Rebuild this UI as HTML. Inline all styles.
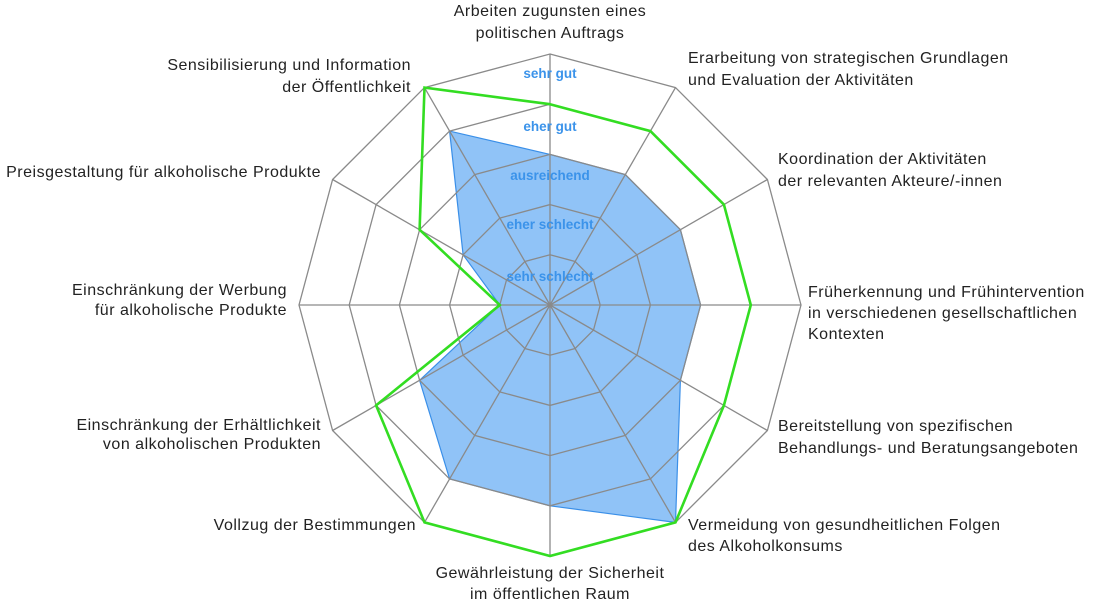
<!DOCTYPE html>
<html><head><meta charset="utf-8"><style>
html,body{margin:0;padding:0;background:#fff;}
body{width:1100px;height:606px;position:relative;overflow:hidden;font-family:"Liberation Sans",sans-serif;}
.l{position:absolute;font-size:16px;letter-spacing:0.5px;line-height:22px;color:#222;white-space:nowrap;}
.r{text-align:right;}
.c{text-align:center;transform:translateX(-50%);}
svg{position:absolute;left:0;top:0;}
</style></head><body>
<svg id="s" width="1100" height="606"></svg>
<div class="l c" style="left:550px;top:1px">Arbeiten zugunsten eines<br>politischen Auftrags</div>
<div class="l" style="left:688px;top:48px">Erarbeitung von strategischen Grundlagen<br>und Evaluation der Aktivitäten</div>
<div class="l" style="left:778px;top:149px">Koordination der Aktivitäten<br>der relevanten Akteure/-innen</div>
<div class="l" style="left:808px;top:282px;line-height:21px">Früherkennung und Frühintervention<br>in verschiedenen gesellschaftlichen<br>Kontexten</div>
<div class="l" style="left:778px;top:416px">Bereitstellung von spezifischen<br>Behandlungs- und Beratungsangeboten</div>
<div class="l" style="left:688px;top:515px;line-height:21px">Vermeidung von gesundheitlichen Folgen<br>des Alkoholkonsums</div>
<div class="l c" style="left:550px;top:563px;line-height:21px">Gewährleistung der Sicherheit<br>im öffentlichen Raum</div>
<div class="l r" style="right:684px;top:515px">Vollzug der Bestimmungen</div>
<div class="l r" style="right:779px;top:416px;line-height:19px">Einschränkung der Erhältlichkeit<br>von alkoholischen Produkten</div>
<div class="l r" style="right:813px;top:281px;line-height:20px">Einschränkung der Werbung<br>für alkoholische Produkte</div>
<div class="l r" style="right:779px;top:162px">Preisgestaltung für alkoholische Produkte</div>
<div class="l r" style="right:689px;top:55px">Sensibilisierung und Information<br>der Öffentlichkeit</div>
<script>
var cx=550,cy=305,u=50.2,NS="http://www.w3.org/2000/svg",s=document.getElementById('s');
function pt(k,r){var a=k*Math.PI/6;return [(cx+r*u*Math.sin(a)).toFixed(1),(cy-r*u*Math.cos(a)).toFixed(1)];}
function poly(vals,attrs){var p=[];for(var k=0;k<12;k++)p.push(pt(k,vals[k]).join(','));var e=document.createElementNS(NS,'polygon');e.setAttribute('points',p.join(' '));for(var a in attrs)e.setAttribute(a,attrs[a]);s.appendChild(e);}
poly([3,3,3,3,3,5,4,4,3,1,2,4],{fill:'#90c3f7',stroke:'#3a8fe8','stroke-width':1.2});
for(var r=1;r<=5;r++)poly([r,r,r,r,r,r,r,r,r,r,r,r],{fill:'none',stroke:'#8a8a8a','stroke-width':1.3});
for(var k=0;k<12;k++){var p=pt(k,5),l=document.createElementNS(NS,'line');l.setAttribute('x1',cx);l.setAttribute('y1',cy);l.setAttribute('x2',p[0]);l.setAttribute('y2',p[1]);l.setAttribute('stroke','#8a8a8a');l.setAttribute('stroke-width',1.3);s.appendChild(l);}
poly([4,4,4,4,4,5,5,5,4,1,3,5],{fill:'none',stroke:'#33dd22','stroke-width':2.6,'stroke-linejoin':'miter'});
var labs=[['sehr gut',78],['eher gut',131],['ausreichend',180],['eher schlecht',229],['sehr schlecht',281]];
labs.forEach(function(t){var e=document.createElementNS(NS,'text');e.setAttribute('x',cx);e.setAttribute('y',t[1]);e.setAttribute('text-anchor','middle');e.setAttribute('font-family','Liberation Sans, sans-serif');e.setAttribute('font-size','13.5');e.setAttribute('font-weight','bold');e.setAttribute('fill','#3b93ea');e.textContent=t[0];s.appendChild(e);});
</script>
</body></html>
